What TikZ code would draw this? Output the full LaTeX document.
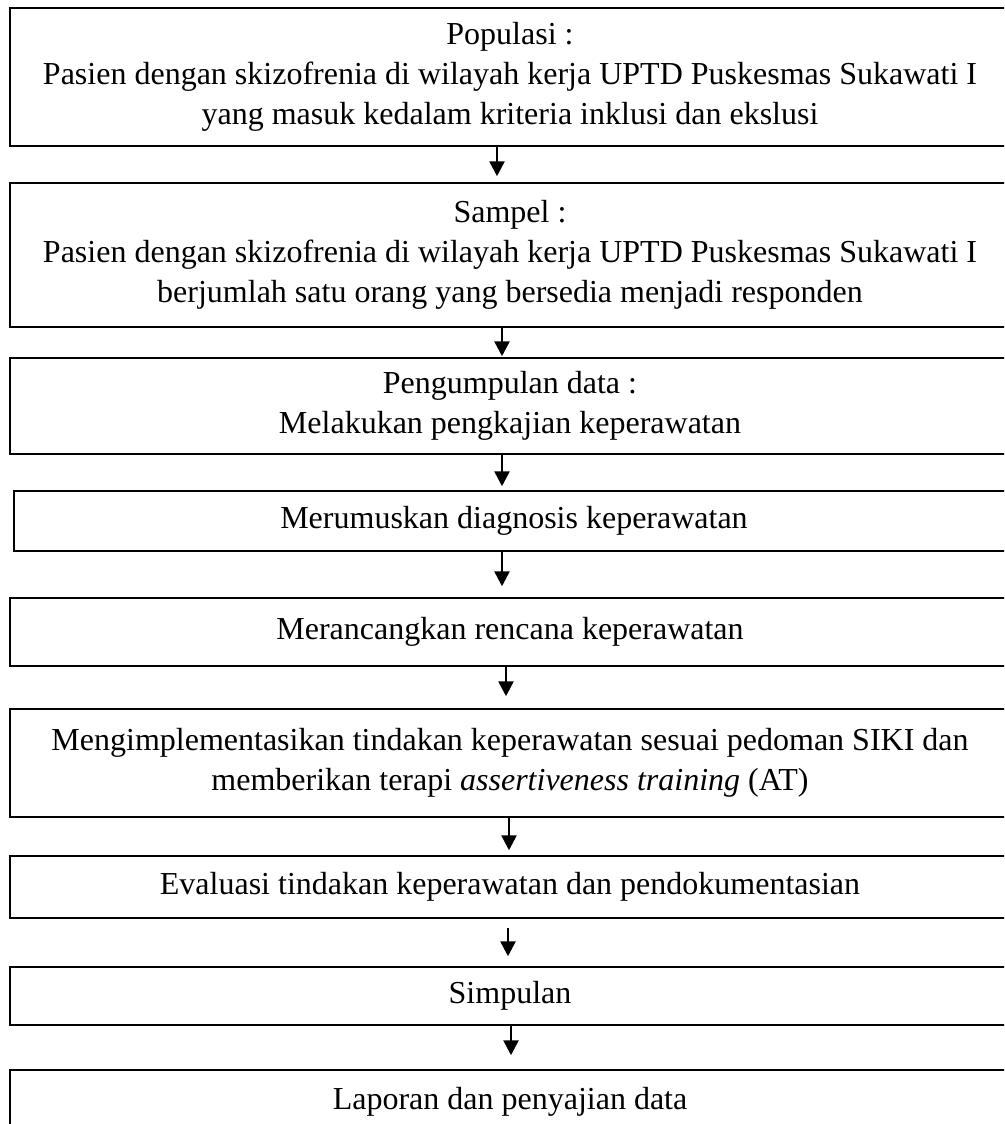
\documentclass[tikz,border=0pt]{standalone}
\usepackage{fontspec}
\setmainfont{Liberation Serif}
\usetikzlibrary{arrows.meta}

\begin{document}
\begin{tikzpicture}[x=1pt,y=-1pt,
  kotak/.style={draw,line width=1.5pt,minimum width=1000pt,align=center,inner sep=0pt,font=\fontsize{32}{40}\selectfont},
  panah/.style={line width=2.6pt,-{Triangle[length=15pt,width=15pt]}}]
\path[use as bounding box,clip] (0,0) rectangle (1004,1124);
\node[kotak,minimum height=138pt] (pop) at (510,77) {Populasi :\\Pasien dengan skizofrenia di wilayah kerja UPTD Puskesmas Sukawati I\\yang masuk kedalam kriteria inklusi dan ekslusi};
\node[kotak,minimum height=144pt] (sam) at (510,255) {Sampel :\\Pasien dengan skizofrenia di wilayah kerja UPTD Puskesmas Sukawati I\\berjumlah satu orang yang bersedia menjadi responden};
\node[kotak,minimum height=96pt] (kum) at (510,406) {Pengumpulan data :\\Melakukan pengkajian keperawatan};
\node[kotak,minimum height=60pt] (diag) at (514,521) {Merumuskan diagnosis keperawatan};
\node[kotak,minimum height=68pt] (renc) at (510,632) {Merancangkan rencana keperawatan};
\node[kotak,minimum height=108pt] (impl) at (510,763) {Mengimplementasikan tindakan keperawatan sesuai pedoman SIKI dan\\memberikan terapi \textit{assertiveness training} (AT)};
\node[kotak,minimum height=62pt] (eval) at (510,887) {Evaluasi tindakan keperawatan dan pendokumentasian};
\node[kotak,minimum height=58pt] (simp) at (510,996) {Simpulan};
\node[kotak,minimum height=64pt] (lap) at (510,1102) {Laporan dan penyajian data};
% panah antar kotak
\foreach \a/\b/\dx/\pa/\pb in {pop/sam/-13/0/6,sam/kum/-8/0/1,kum/diag/-8/0/4,diag/renc/-12/0/11,
  renc/impl/-4/0/12,impl/eval/-1/0/5,eval/simp/-2/9/10,simp/lap/1/0/14}
  \draw[panah,shorten <=\pa pt,shorten >=\pb pt] ([xshift=\dx pt]\a.south) -- ([xshift=\dx pt]\a.south |- \b.north);
\end{tikzpicture}
\end{document}
